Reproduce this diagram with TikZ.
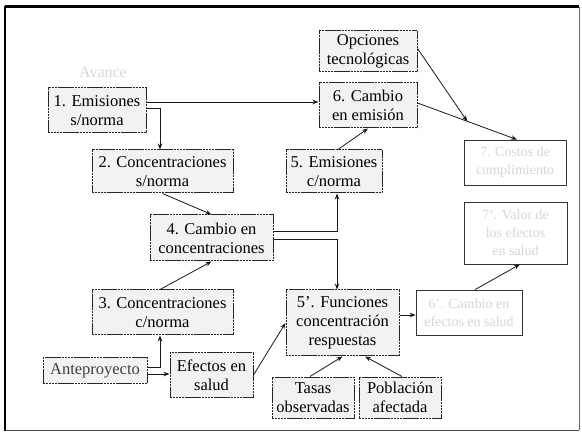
\documentclass[tikz,border=0pt]{standalone}
\usepackage{fontspec}
\setmainfont{Liberation Serif}
\usetikzlibrary{arrows.meta,calc}
\begin{document}
\begin{tikzpicture}[x=1pt,y=-1pt,
  box/.style={draw=black!85, line width=1pt, dash pattern=on 2.4pt off 0.5pt,
    fill=black!5, inner sep=0pt, align=center,
    font=\fontsize{16.5}{19}\selectfont},
  faint/.style={box, draw=black!80, line width=0.8pt, solid, fill=white, text=black!16,
    font=\fontsize{14}{18}\selectfont},
  arr/.style={-{Stealth[length=6pt,width=4.5pt]}, line width=0.8pt, draw=black!90},
  ln/.style={line width=0.8pt, draw=black!90}]
\useasboundingbox (0,0) rectangle (582,433);
% frame
\draw[line width=3pt] (5,7) -- (579,7);
\draw[line width=2pt] (5,6) -- (5,431);
\draw[line width=0.8pt, black!70] (5,430) -- (579,430);
\draw[line width=0.8pt, black!60] (579,7) -- (579,430);

% faded heading
\node[text=black!16, font=\fontsize{16}{19}\selectfont] (head) at (103,72) {Avance};

% boxes
\node[box, minimum width=98pt, minimum height=45pt] (e1) at (97,110.5) {1. Emisiones\\s/norma};
\node[box, minimum width=141pt, minimum height=43pt] (c2) at (162.5,171.5) {2. Concentraciones\\s/norma};
\node[box, minimum width=123pt, minimum height=46pt] (d4) at (211.5,238) {4. Cambio en\\concentraciones};
\node[box, minimum width=141pt, minimum height=45pt] (c3) at (162.5,312.5) {3. Concentraciones\\c/norma};
\node[box, minimum width=104pt, minimum height=25pt, text=black!75] (ap) at (95,370.5) {Anteproyecto};
\node[box, minimum width=83pt, minimum height=44pt] (ef) at (211.5,375) {Efectos en\\salud};
\node[box, minimum width=98pt, minimum height=41pt] (op) at (368,51.5) {Opciones\\tecnológicas};
\node[box, minimum width=98pt, minimum height=45pt] (ce6) at (368,105.5) {6. Cambio\\en emisión};
\node[box, minimum width=96pt, minimum height=43pt] (em5) at (334,171.5) {5. Emisiones\\c/norma};
\node[faint, minimum width=102pt, minimum height=45pt] (co7) at (515,162.5) {7. Costos de\\cumplimiento};
\node[faint, minimum width=103pt, minimum height=62pt] (va7) at (515.5,233) {7'. Valor de\\los efectos\\en salud};
\node[box, minimum width=113pt, minimum height=66pt] (fu5) at (342.5,323) {5'. Funciones\\concentración\\respuestas};
\node[faint, minimum width=106pt, minimum height=45pt] (ef6) at (469,312.5) {6'. Cambio en\\efectos en salud};
\node[box, minimum width=82pt, minimum height=41pt] (ta) at (313,397.5) {Tasas\\observadas};
\node[box, minimum width=82pt, minimum height=41pt] (po) at (400,397.5) {Población\\afectada};

% connectors
\coordinate (s1) at ([yshift=8.5pt]e1.east);
\draw[arr] (s1) -- (s1 -| ce6.west);
\draw[arr] ([yshift=2.5pt]e1.east) -| ([xshift=-2.5pt]c2.north);
\draw[arr] (c2.south) -- (d4.north);
\draw[arr] ([xshift=-2.5pt]c3.north) -- (d4.south);
\draw[arr] ([yshift=3.5pt]ap.east) -| ([xshift=-2.5pt]c3.south);
\coordinate (s2) at ([yshift=-3.5pt]ap.east);
\draw[arr] (s2) -- (s2 -| ef.west);
\draw[arr] (ef.east) -- (fu5.west);
\draw[arr] ([yshift=7pt]d4.east) -| ([xshift=3pt]em5.south);
\draw[arr] ([yshift=-1pt]d4.east) -| ([xshift=-5.5pt]fu5.north);
\draw[arr] ([xshift=4pt]em5.north) -- (ce6.south);
\coordinate (s3) at ([yshift=2.5pt]ce6.east);
\coordinate (t3) at ([xshift=2pt]co7.north);
\coordinate (mid) at ($(s3)!0.5!(t3)$);
\draw[arr] (s3) -- (t3);
\draw[arr] ([yshift=3pt]op.east) -- (mid);
\coordinate (s4) at ([yshift=8pt]fu5.east);
\draw[arr] (s4) -- (s4 -| ef6.west);
\draw[arr] ([xshift=6pt]ef6.north) -- ([xshift=4.5pt]va7.south);
\draw[arr] ([xshift=-3pt]ta.north) -- (fu5.south);
\draw[arr] ([xshift=2pt]po.north) -- ([xshift=22.5pt]fu5.south);
\end{tikzpicture}
\end{document}
